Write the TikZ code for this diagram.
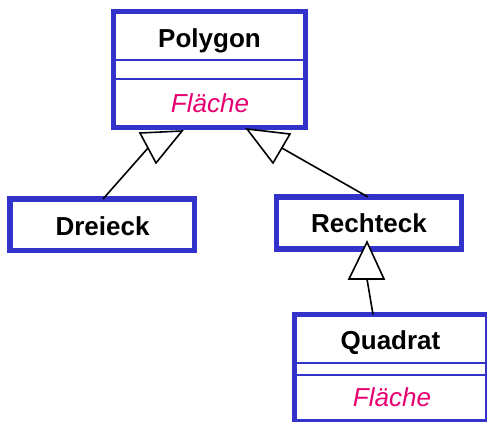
\documentclass[tikz,border=0pt]{standalone}
\usepackage{fontspec}
\setmainfont{Liberation Sans}
\definecolor{umlblue}{RGB}{51,51,204}
\definecolor{oppink}{RGB}{232,0,112}
\begin{document}
\begin{tikzpicture}[x=1pt,y=-1pt,
  classbox/.style={draw=umlblue,line width=5.5pt,fill=white,inner sep=0pt,outer sep=0pt},
  divider/.style={draw=umlblue,line width=1.8pt},
  cname/.style={font=\fontsize{26}{30}\selectfont\bfseries,anchor=base,inner sep=0pt},
  opname/.style={font=\fontsize{26}{30}\selectfont\itshape,text=oppink,anchor=base,inner sep=0pt},
  conn/.style={draw=black,line width=1.6pt},
  inherit/.style={draw=black,line width=1.6pt,fill=white,line join=miter}]
\clip (0,0) rectangle (487,421);
\fill[white] (0,0) rectangle (487,421);
% boxes
\node[classbox,minimum width=192pt,minimum height=116pt] (poly) at (209.5,69.5) {};
\node[classbox,minimum width=184.5pt,minimum height=51.5pt] (dre) at (102.25,224.75) {};
\node[classbox,minimum width=185pt,minimum height=52pt] (rect) at (369,223) {};
\node[classbox,minimum width=193.5pt,minimum height=107pt] (quad) at (391.25,368) {};
% dividers
\draw[divider] (poly.west |- 0,60) -- (poly.east |- 0,60);
\draw[divider] (poly.west |- 0,79) -- (poly.east |- 0,79);
\draw[divider] (quad.west |- 0,363) -- (quad.east |- 0,363);
\draw[divider] (quad.west |- 0,375) -- (quad.east |- 0,375);
% texts
\node[cname] (tpoly) at (209.5,47) {Polygon};
\node[opname] (fpoly) at (210,112) {Fläche};
\node[cname] (tdre) at (102.5,235) {Dreieck};
\node[cname] (trect) at (369,232.7) {Rechteck};
\node[cname] (tquad) at (390.5,349.5) {Quadrat};
\node[opname] (fquad) at (392,406.7) {Fläche};
% connector end points
\coordinate (d1) at (dre.north -| 103,0);
\coordinate (t1) at (148,148);
\coordinate (r1) at (rect.north -| 368,0);
\coordinate (t2) at (281.8,148);
\coordinate (q1) at (quad.north -| 373,0);
\coordinate (t3) at (367,279);
% connectors
\draw[conn] (d1) -- (t1);
\draw[conn] (r1) -- (t2);
\draw[conn] (q1) -- (t3);
% inheritance triangles
\draw[inherit] (140,133) -- (182,131) -- (156,163) -- cycle;
\draw[inherit] (247,129) -- (290,134) -- (273,163) -- cycle;
\draw[inherit] (367,242) -- (384,279) -- (349,279) -- cycle;
\end{tikzpicture}
\end{document}
